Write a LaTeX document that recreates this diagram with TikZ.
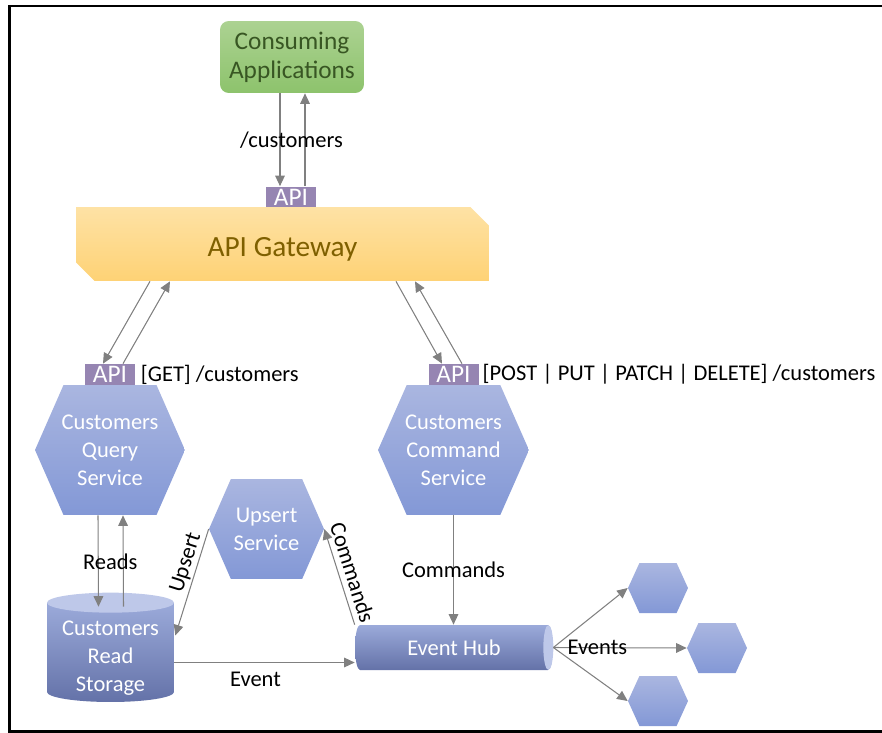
\documentclass[tikz,border=0pt]{standalone}
\usepackage{fontspec}
\setmainfont{Carlito}
\usepackage{xcolor}
\usepackage{tikz}
\usetikzlibrary{arrows.meta,positioning,calc,shapes.misc}

\definecolor{hextop}{RGB}{170,182,224}
\definecolor{hexbot}{RGB}{131,152,214}
\definecolor{dbtop}{RGB}{155,170,218}
\definecolor{dbbot}{RGB}{100,114,168}
\definecolor{dbcap}{RGB}{190,200,233}
\definecolor{apicol}{RGB}{150,133,178}
\definecolor{apptop}{RGB}{172,210,146}
\definecolor{appbot}{RGB}{141,195,108}
\definecolor{apptext}{RGB}{56,86,35}
\definecolor{gwtop}{RGB}{254,226,165}
\definecolor{gwbot}{RGB}{254,210,117}
\definecolor{gwtext}{RGB}{127,96,0}
\definecolor{linkgray}{RGB}{128,128,128}

\newcommand{\lblfont}{\fontsize{12.8}{16}\selectfont}
\newcommand{\bigfont}{\fontsize{14.4}{16.5}\selectfont}

\tikzset{
  flow/.style={draw=linkgray, line width=0.6pt, -{Triangle[length=6pt,width=5.5pt]}},
  lbl/.style={font=\lblfont, inner sep=1pt},
  apibox/.style={fill=apicol, text=white, font=\bigfont, minimum width=1cm, minimum height=0.42cm, inner sep=0pt},
  app/.style={rounded corners=5pt, top color=apptop, bottom color=appbot, text=apptext, font=\bigfont,
    align=center, minimum width=2.88cm, minimum height=1.44cm},
  gateway/.style={chamfered rectangle, chamfered rectangle corners={north east,south west},
    chamfered rectangle xsep=0.26cm, top color=gwtop, bottom color=gwbot, text=gwtext,
    font=\fontsize{16.7}{20}\selectfont, minimum width=8.26cm, minimum height=1.48cm},
  hexa/.style 2 args={minimum width=#1, minimum height=#2, text=white, font=\lblfont, align=center, inner sep=0pt,
    path picture={
      \shade[top color=hextop, bottom color=hexbot]
        (path picture bounding box.west)
        -- ($(path picture bounding box.north west)!0.19!(path picture bounding box.north east)$)
        -- ($(path picture bounding box.north west)!0.81!(path picture bounding box.north east)$)
        -- (path picture bounding box.east)
        -- ($(path picture bounding box.south west)!0.81!(path picture bounding box.south east)$)
        -- ($(path picture bounding box.south west)!0.19!(path picture bounding box.south east)$)
        -- cycle;}},
  store/.style={minimum width=2.54cm, minimum height=1.98cm, text=white, font=\lblfont, align=center, inner sep=0pt,
    path picture={
      \shade[top color=dbtop, bottom color=dbbot]
        (path picture bounding box.north west)
        -- ([yshift=0.2cm]path picture bounding box.south west)
        arc[start angle=180, end angle=360, x radius=1.27cm, y radius=0.2cm]
        -- (path picture bounding box.north east) -- cycle;}},
  ehub/.style={minimum width=3.96cm, minimum height=0.9cm, text=white, font=\lblfont, inner sep=0pt,
    path picture={
      \shade[top color=dbtop, bottom color=dbbot]
        ([xshift=0.1cm]path picture bounding box.north west)
        -- ([xshift=-0.1cm]path picture bounding box.north east)
        arc[start angle=90, end angle=-90, x radius=0.1cm, y radius=0.45cm]
        -- ([xshift=0.1cm]path picture bounding box.south west)
        arc[start angle=270, end angle=90, x radius=0.1cm, y radius=0.45cm] -- cycle;}},
}

\begin{document}
\begin{tikzpicture}[x=0.02cm,y=-0.02cm]
  \useasboundingbox (0,0) rectangle (882,733);
  \draw[line width=1.4pt] (882,6.2) -- (9.7,6.2) -- (9.7,731.5) -- (882,731.5);

  \node[app] (app) at (292,57) {Consuming\\Applications};
  \node[gateway] (gw) at (282.5,244) {\rule{0pt}{17pt}API Gateway};
  \node[apibox] (ga) at (291,197) {API};

  \node[hexa={3cm}{2.6cm}] (qs) at (110,450) {Customers\\Query\\Service};
  \node[hexa={3.02cm}{2.6cm}] (cs) at (453.5,450) {Customers\\Command\\Service};
  \node[apibox] (qa) at (110,374.5) {API};
  \node[apibox] (ca) at (453.5,374.5) {API};
  \node[lbl, right=2pt of qa] (qlbl) {[GET] /customers};
  \node[lbl, right=1pt of ca] (clbl) {[POST | PUT | PATCH | DELETE] /customers};

  \node[hexa={2.3cm}{2cm}] (us) at (266.5,529) {Upsert\\Service};
  \node[store] (rs) at (110.5,652.5) {\rule{0pt}{15pt}Customers\\Read\\Storage};
  \fill[dbcap] (rs.north) ellipse [x radius=1.27cm, y radius=0.2cm];
  \node[ehub] (eh) at (454,647.5) {Event Hub};
  \fill[dbcap] ([xshift=-0.1cm]eh.east) ellipse [x radius=0.1cm, y radius=0.45cm];

  \node[hexa={1.2cm}{1cm}] (h1) at (658,588) {};
  \node[hexa={1.2cm}{1cm}] (h2) at (717,648) {};
  \node[hexa={1.2cm}{1cm}] (h3) at (658,701) {};

  \draw[flow] ($(app.south)+(-12,0)$) -- ($(ga.north)+(-11,0)$);
  \draw[flow] ($(ga.north)+(14,0)$) -- ($(app.south)+(13,0)$);
  \node[lbl] (toplbl) at ($(app.south)!0.5!(ga.north)$) {/customers};

  \draw[flow] ($(gw.south)+(-132.5,0)$) -- ($(qa.north)+(-7,0)$);
  \draw[flow] ($(qa.north)+(13,0)$) -- ($(gw.south)+(-112.5,0)$);
  \draw[flow] ($(gw.south)+(113.5,0)$) -- ($(ca.north)+(-11.5,0)$);
  \draw[flow] ($(ca.north)+(8.5,0)$) -- ($(gw.south)+(132.5,0)$);

  \draw[flow] ($(qs.south)+(-12,0)$) -- ($(rs.north)+(-12,4)$);
  \draw[flow] ($(rs.north)+(13,4)$) -- ($(qs.south)+(13,0)$);
  \node[lbl] (rdlbl) at ($(qs.south)!0.53!(rs.north)$) {Reads};

  \draw[flow] (us.west) -- ($(rs.east)+(1,-17)$) node[lbl, pos=0.35, above, sloped] (uplbl) {Upsert};
  \draw[flow] (eh.north west) -- (us.east) node[lbl, pos=0.5, above=2pt, sloped] (cmdlbl) {Commands};
  \coordinate (evt) at ($(rs.east)+(0,10)$);
  \draw[flow] (evt) -- (evt -| eh.west) node[lbl, pos=0.45, below=4pt] (evlbl) {Event};
  \draw[flow] (cs.south) -- (cs.south |- eh.north) node[lbl, midway] (cmlbl) {Commands};

  \draw[flow] (eh.east) -- (h1.west);
  \draw[flow] (eh.east) -- (h2.west) node[lbl, pos=0.33] (evslbl) {Events};
  \draw[flow] (eh.east) -- (h3.west);
\end{tikzpicture}
\end{document}
